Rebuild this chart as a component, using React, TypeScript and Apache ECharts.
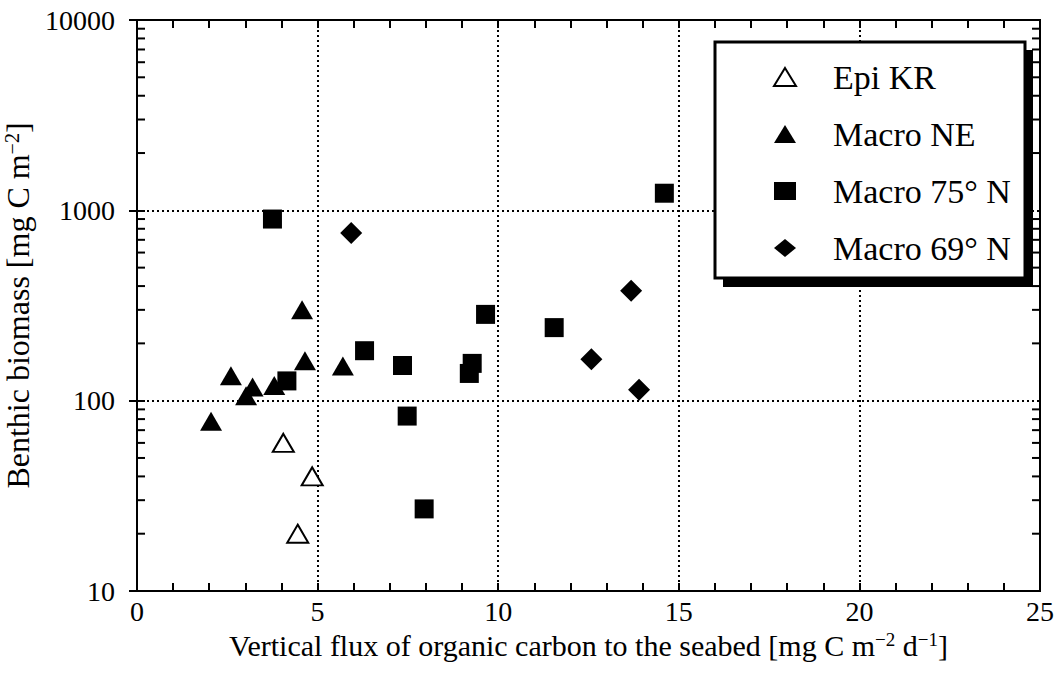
import React, { useEffect, useRef } from "react";
import * as echarts from "echarts";

const epiKR: number[][] = [[4.05, 60], [4.85, 40], [4.45, 20]];
const macroNE: number[][] = [
  [2.05, 78], [2.6, 135], [3.2, 118], [3.02, 106], [3.8, 120],
  [4.57, 300], [4.65, 162], [5.7, 152],
];
const macro75: number[][] = [
  [3.75, 900], [4.15, 127], [6.3, 183], [7.35, 153], [7.48, 83],
  [7.95, 27], [9.2, 139], [9.28, 157], [9.65, 284], [11.55, 242], [14.6, 1230],
];
const macro69: number[][] = [[5.93, 760], [12.58, 165], [13.68, 378], [13.9, 114]];
const yMinorTicks: number[] = [
  20, 30, 40, 50, 60, 70, 80, 90,
  200, 300, 400, 500, 600, 700, 800, 900,
  2000, 3000, 4000, 5000, 6000, 7000, 8000, 9000,
];
const seriesNames = ["Epi KR", "Macro NE", "Macro 75° N", "Macro 69° N"];

const FONT = "'Liberation Serif', 'Times New Roman', Times, serif";

export default function App() {
  const ref = useRef<HTMLDivElement>(null);
  useEffect(() => {
    if (!ref.current) return;
    const chart = echarts.init(ref.current, undefined, { renderer: "svg" });
    const tickStyle = { color: "#000", width: 2 };
    const richX = {
      n: { fontFamily: FONT, fontSize: 30, color: "#000" },
      s: { fontFamily: FONT, fontSize: 19, color: "#000", verticalAlign: "top", padding: [0, 0, 12, 0] },
    };
    const richY = {
      n: { fontFamily: FONT, fontSize: 32, color: "#000" },
      s: { fontFamily: FONT, fontSize: 20, color: "#000", verticalAlign: "top", padding: [0, 0, 10, 0] },
    };
    const option: any = {
      animation: false,
      backgroundColor: "#fff",
      textStyle: { fontFamily: FONT },
      grid: {
        left: 137, right: 18, top: 20, bottom: 85,
        containLabel: false,
        outerBoundsMode: "none",
        show: true, borderColor: "#000", borderWidth: 2, backgroundColor: "transparent",
      },
      xAxis: [
        {
          type: "value", min: 0, max: 25, interval: 5,
          name: "{n|Vertical flux of organic carbon to the seabed [mg C m}{s|−2}{n| d}{s|−1}{n|]}",
          nameLocation: "middle", nameGap: 34,
          nameTextStyle: { rich: richX },
          axisLine: { show: true, lineStyle: { color: "#000", width: 2 } },
          axisTick: { show: true, inside: true, length: 8, lineStyle: tickStyle },
          minorTick: { show: true, splitNumber: 5, length: 8, lineStyle: tickStyle },
          axisLabel: { fontFamily: FONT, fontSize: 28, color: "#000", margin: 6 },
          splitLine: { show: true, lineStyle: { color: "#000", type: [2, 3], width: 2 } },
        },
        {
          type: "value", min: 0, max: 25, interval: 5, position: "top",
          axisLine: { show: true, lineStyle: { color: "#000", width: 2 } },
          axisTick: { show: true, inside: true, length: 8, lineStyle: tickStyle },
          minorTick: { show: true, splitNumber: 5, length: 8, lineStyle: tickStyle },
          axisLabel: { show: false },
          splitLine: { show: false },
        },
      ],
      yAxis: [
        {
          type: "log", logBase: 10, min: 10, max: 10000,
          name: "{n|Benthic biomass [mg C m}{s|−2}{n|]}",
          nameLocation: "middle", nameGap: 98, nameRotate: 90,
          nameTextStyle: { rich: richY },
          axisLine: { show: true, lineStyle: { color: "#000", width: 2 } },
          axisTick: { show: true, inside: true, length: 8, lineStyle: tickStyle },
          axisLabel: {
            fontFamily: FONT, fontSize: 28, color: "#000", margin: 22,
            formatter: (v: number) => String(Math.round(v)),
          },
          splitLine: { show: true, lineStyle: { color: "#000", type: [2, 3], width: 2 } },
        },
        {
          type: "log", logBase: 10, min: 10, max: 10000, position: "right",
          axisLine: { show: true, lineStyle: { color: "#000", width: 2 } },
          axisTick: { show: true, inside: true, length: 8, lineStyle: tickStyle },
          axisLabel: { show: false },
          splitLine: { show: false },
        },
      ],
      legend: {
        orient: "vertical",
        left: 768, top: 55,
        itemWidth: 22, itemHeight: 18,
        itemGap: 23,
        z: 60,
        data: seriesNames,
        textStyle: { fontFamily: FONT, fontSize: 34, color: "#000", padding: [0, 0, 0, 32] },
        selectedMode: false,
      },
      graphic: [
        { type: "rect", z: 50, shape: { x: 723, y: 50, width: 310, height: 237 }, style: { fill: "#000" } },
        { type: "rect", z: 51, shape: { x: 715, y: 42, width: 310, height: 236 }, style: { fill: "#fff", stroke: "#000", lineWidth: 3 } },
      ],
      series: [
        {
          name: seriesNames[0], type: "scatter", data: epiKR, symbol: "triangle", symbolSize: [21, 18],
          itemStyle: { color: "#fff", borderColor: "#000", borderWidth: 2, opacity: 1 }, z: 10,
        },
        {
          name: seriesNames[1], type: "scatter", data: macroNE, symbol: "triangle", symbolSize: [22, 19],
          itemStyle: { color: "#000", opacity: 1 }, z: 10,
        },
        {
          name: seriesNames[2], type: "scatter", data: macro75, symbol: "rect", symbolSize: 19,
          itemStyle: { color: "#000", opacity: 1 }, z: 10,
        },
        {
          name: seriesNames[3], type: "scatter", data: macro69, symbol: "diamond", symbolSize: 22,
          itemStyle: { color: "#000", opacity: 1 }, z: 10,
        },
        {
          type: "custom", silent: true, clip: false, z: 5,
          data: yMinorTicks.map((v) => [0, v]),
          renderItem: (params: any, api: any) => {
            const v = api.value(1);
            const l = api.coord([0, v]);
            const r = api.coord([25, v]);
            return {
              type: "group",
              children: [
                { type: "line", shape: { x1: l[0], y1: l[1], x2: l[0] + 8, y2: l[1] }, style: { stroke: "#000", lineWidth: 2 } },
                { type: "line", shape: { x1: r[0], y1: r[1], x2: r[0] - 8, y2: r[1] }, style: { stroke: "#000", lineWidth: 2 } },
              ],
            };
          },
        },
      ],
    };
    chart.setOption(option);
    return () => chart.dispose();
  }, []);
  return <div ref={ref} style={{ position: "absolute", left: 0, top: 0, width: 1058, height: 676 }} />;
}
